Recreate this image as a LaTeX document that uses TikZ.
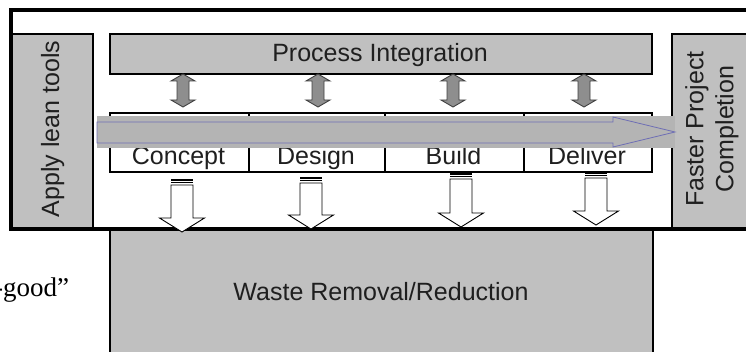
\documentclass[tikz,border=0pt]{standalone}
\usepackage{fontspec}
\setmainfont{Liberation Sans}
\newfontfamily\seriffamily{Liberation Serif}

\definecolor{boxgray}{HTML}{C0C0C0}
\definecolor{bandgray}{HTML}{B4B4B4}
\definecolor{linkgray}{HTML}{8E8E8E}
\definecolor{flowblue}{HTML}{6E6EB4}

\tikzset{
  panel/.style={draw=black, line width=1.8pt, fill=boxgray, inner sep=0pt},
  cellbox/.style={draw=black, line width=1.6pt, fill=white, inner sep=0pt},
  lbl/.style={font=\fontsize{25}{30}\selectfont, inner sep=0pt, text=black!88},
  linkarrow/.style={fill=linkgray, draw=black!75, line width=0.9pt},
  wastearrow/.style={fill=white, draw=black, line width=0.9pt},
  twoway/.pic={
    \draw[linkarrow] (0,0) -- (12,7) -- (6,7) -- (6,26) -- (12,26) -- (0,33)
      -- (-12,26) -- (-6,26) -- (-6,7) -- (-12,7) -- cycle;
  }
}

% striped block arrow pointing down: centre x, top of stripes, tip
\newcommand\stripedarrow[3]{%
  \fill[black] (#1-11,#2) rectangle (#1+11,#2+2);
  \draw[line width=0.9pt] (#1-11,#2+3.8) -- (#1+11,#2+3.8);
  \draw[wastearrow] (#1-11,#2+6) -- (#1+11,#2+6) -- (#1+11,#3-14)
    -- (#1+22.5,#3-14) -- (#1,#3) -- (#1-22.5,#3-14) -- (#1-11,#3-14) -- cycle;
}

\begin{document}
\begin{tikzpicture}[x=1pt, y=-1pt]
  \useasboundingbox (0,0) rectangle (746,352);
  \clip (0,0) rectangle (746,352);

  % waste box below the frame
  \node[panel, anchor=north west, minimum width=543pt, minimum height=150pt] (waste) at (109,229) {};

  % side panels
  \node[panel, anchor=north west, minimum width=81pt, minimum height=196pt] (lean) at (11,33) {};
  \node[panel, anchor=north west, minimum width=120pt, minimum height=196pt] (faster) at (671,33) {};

  % process integration bar
  \node[panel, anchor=north west, minimum width=542pt, minimum height=40pt] (pi) at (109,33) {};

  % phase cells
  \node[cellbox, anchor=north west, minimum width=139pt, minimum height=59pt] (c1) at (109,112) {};
  \node[cellbox, anchor=north west, minimum width=136pt, minimum height=59pt] (c2) at (248,112) {};
  \node[cellbox, anchor=north west, minimum width=139pt, minimum height=59pt] (c3) at (384,112) {};
  \node[cellbox, anchor=north west, minimum width=128pt, minimum height=59pt] (c4) at (523,112) {};

  \node[lbl, anchor=base] (t1) at (178.5,165) {Concept};
  \node[lbl, anchor=base] (t2) at (316,165) {Design};
  \node[lbl, anchor=base] (t3) at (453.5,165) {Build};
  \node[lbl, anchor=base] (t4) at (587,165) {Deliver};

  % flow band across the phases
  \fill[bandgray] (97,116) rectangle (675,148);
  \draw[flowblue, fill=bandgray, line width=0.8pt]
    (97,122) -- (613,122) -- (613,117) -- (675,132) -- (613,147) -- (613,143) -- (97,143) -- cycle;

  % outer frame
  \draw[line width=3.2pt] (11,229) -- (11,10) -- (800,10);
  \draw[line width=3.2pt] (9.4,229) -- (800,229);

  % two-way links between the bar and the phases
  \pic at (183,74) {twoway};
  \pic at (318,74) {twoway};
  \pic at (453,74) {twoway};
  \pic at (584,74) {twoway};

  % arrows down into waste removal
  \stripedarrow{182}{179}{232}
  \stripedarrow{311}{177}{229}
  \stripedarrow{461}{173}{227}
  \stripedarrow{596}{172}{225}

  % labels
  \node[lbl, anchor=base] (pil) at (380,62) {Process Integration};
  \node[lbl, anchor=base, rotate=90] (leanl) at (59,129) {Apply lean tools};
  \node[lbl, align=center, rotate=90] (fasterl) at (712,129) {Faster Project\\Completion};
  \node[lbl, anchor=base] (wastel) at (381,301) {Waste Removal/Reduction};

  \node[font=\seriffamily\fontsize{27}{30}\selectfont, inner sep=0pt, anchor=base west] (good) at (-6,297) {-good”};
\end{tikzpicture}
\end{document}
